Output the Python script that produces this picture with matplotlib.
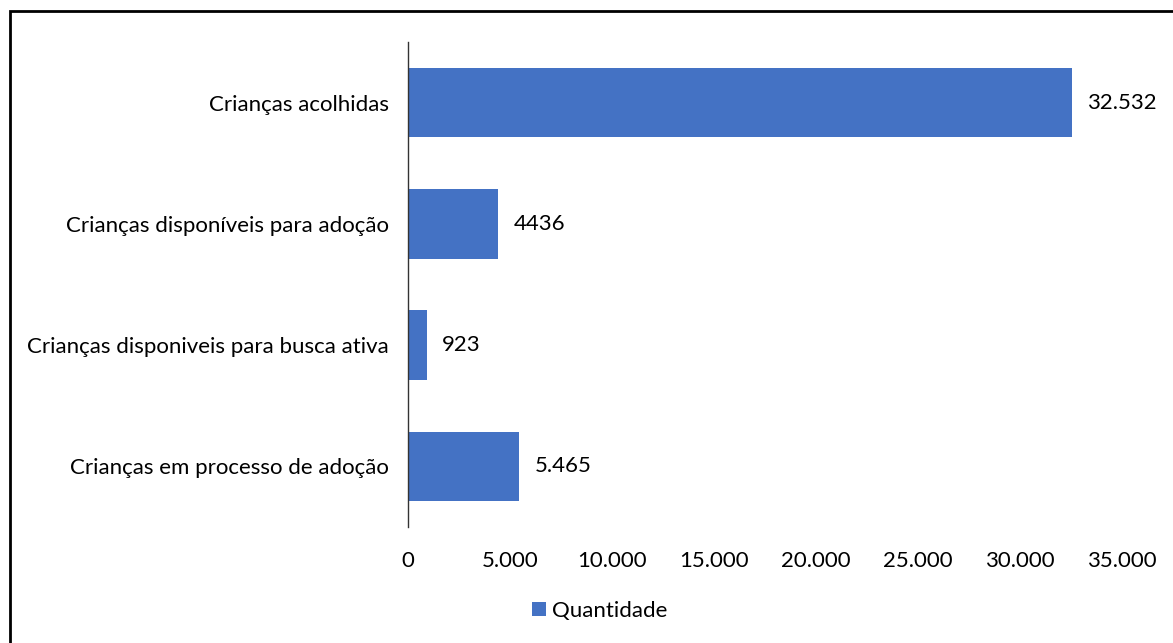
import matplotlib.pyplot as plt
from matplotlib.patches import Rectangle

plt.rcParams['font.family'] = ['Lato', 'DejaVu Sans']

categorias = ['Crianças acolhidas',
              'Crianças disponíveis para adoção',
              'Crianças disponiveis para busca ativa',
              'Crianças em processo de adoção']
quantidade = [32532, 4436, 923, 5465]
rotulos = ['32.532', '4436', '923', '5.465']
xticks = [0, 5000, 10000, 15000, 20000, 25000, 30000, 35000]
xtick_labels = ['0', '5.000', '10.000', '15.000', '20.000', '25.000', '30.000', '35.000']

cor = '#4472C4'
fs = 16
W, H = 1173, 643

fig = plt.figure(figsize=(W / 100, H / 100), dpi=100)
ax = fig.add_axes([408 / W, 1 - 527 / H, (1122 - 408) / W, (527 - 42) / H])

y = list(range(len(categorias)))
ax.barh(y, quantidade, height=0.575, color=cor, label='Quantidade')
for yi, v, txt in zip(y, quantidade, rotulos):
    ax.text(v + 760, yi, txt, va='center', ha='left', fontsize=fs, color='black')

ax.set_ylim(len(categorias) - 0.5, -0.5)
ax.set_xlim(0, 35000)
ax.set_yticks(y)
ax.set_yticklabels(categorias, fontsize=fs, color='black')
ax.set_xticks(xticks)
ax.set_xticklabels(xtick_labels, fontsize=fs, color='black')
ax.tick_params(axis='both', length=0)
ax.tick_params(axis='y', pad=14)
ax.tick_params(axis='x', pad=17)
for s in ['top', 'right', 'bottom']:
    ax.spines[s].set_visible(False)
ax.spines['left'].set_color('#333333')
ax.spines['left'].set_linewidth(1.0)

leg = fig.legend(loc='center', bbox_to_anchor=(600 / W, 1 - 611 / H), frameon=False,
                 fontsize=fs, handlelength=0.6, handleheight=0.6, handletextpad=0.3)

# moldura externa (só as bordas esquerda e superior aparecem no recorte)
fig.patches.append(Rectangle((9.5 / W, -0.1), 1.2, 1 - 11.5 / H + 0.1,
                             transform=fig.transFigure, fill=False,
                             edgecolor='black', linewidth=2.0, clip_on=False))

fig.savefig('out.png', dpi=100, facecolor='white')
